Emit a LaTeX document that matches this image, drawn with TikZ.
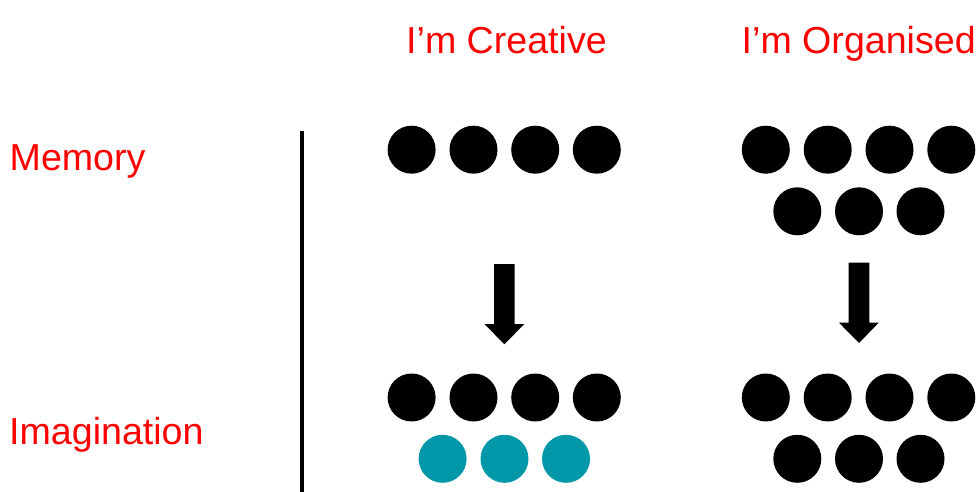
\documentclass[tikz,border=0pt]{standalone}
\usepackage{fontspec}
\setmainfont{Liberation Sans}
\definecolor{teal1}{RGB}{0,152,168}
\definecolor{lblred}{RGB}{255,0,0}
\begin{document}
\begin{tikzpicture}[x=1pt,y=-1pt,
  dot/.style={circle,fill=black,draw=none,minimum size=48pt,inner sep=0pt},
  tdot/.style={dot,fill=teal1},
  lbl/.style={text=lblred,font=\fontsize{37.6}{40}\selectfont,inner sep=0pt,anchor=base west},
  bigarrow/.style={fill=black,draw=none}]
\useasboundingbox (0,0) rectangle (977,492);
% labels
\node[lbl] (creative) at (406,53.5) {I’m Creative};
\node[lbl] (organised) at (741.5,53.5) {I’m Organised};
\node[lbl] (memory) at (9.5,171) {Memory};
\node[lbl] (imagination) at (9,444) {Imagination};
% divider
\draw[line width=3.5pt] (302,131) -- (302,492);
% Creative memory
\foreach \x [count=\i] in {411.6,473.5,535.2,596.8} {\node[dot] (cm\i) at (\x,149.7) {};}
% Organised memory
\foreach \x [count=\i] in {765.8,827.7,889.5,951.3} {\node[dot] (om\i) at (\x,149.7) {};}
\foreach \x [count=\i] in {797.3,859,920.5} {\node[dot] (om2\i) at (\x,211.3) {};}
% arrows
\fill[bigarrow] (494.1,264) -- (514.7,264) -- (514.7,324) -- (524.3,324) -- (504.4,344.3) -- (484.4,324) -- (494.1,324) -- cycle;
\fill[bigarrow] (848.7,262.7) -- (869.3,262.7) -- (869.3,322.7) -- (878.7,322.7) -- (859,343) -- (839,322.7) -- (848.7,322.7) -- cycle;
% Creative imagination
\foreach \x [count=\i] in {411.6,473.5,535.2,596.8} {\node[dot] (ci\i) at (\x,397.5) {};}
\foreach \x [count=\i] in {442.6,504.5,566} {\node[tdot] (ct\i) at (\x,458.8) {};}
% Organised imagination
\foreach \x [count=\i] in {765.8,827.7,889.5,951.3} {\node[dot] (oi\i) at (\x,397.5) {};}
\foreach \x [count=\i] in {797.3,859,920.5} {\node[dot] (oi2\i) at (\x,458.8) {};}
\end{tikzpicture}
\end{document}
